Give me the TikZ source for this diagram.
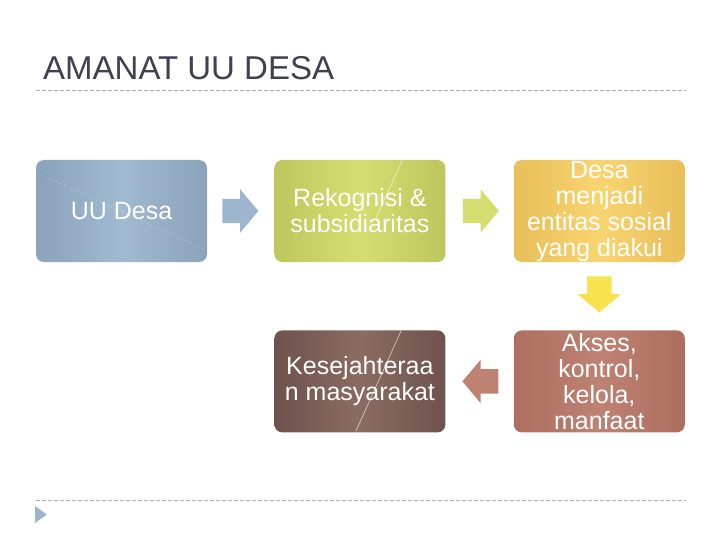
\documentclass[tikz,border=0pt]{standalone}
\usepackage{fontspec}
\setmainfont{Liberation Sans}
\usetikzlibrary{positioning, calc, shapes.arrows}

\definecolor{titlegray}{HTML}{404050}
\definecolor{rulegray}{HTML}{A8B0BC}
\definecolor{blueA}{HTML}{8AA2BA}
\definecolor{blueB}{HTML}{A0BAD2}
\definecolor{greenA}{HTML}{BCC65C}
\definecolor{greenB}{HTML}{D4DE70}
\definecolor{goldA}{HTML}{E8BE58}
\definecolor{goldB}{HTML}{F8D470}
\definecolor{rustA}{HTML}{AC6E5E}
\definecolor{rustB}{HTML}{BE8272}
\definecolor{brownA}{HTML}{6E524C}
\definecolor{brownB}{HTML}{8A6C62}

\tikzset{
  box/.style={rounded corners=8pt, minimum width=171pt, minimum height=102pt,
    inner sep=0pt, align=center, text=white,
    font=\fontsize{25}{26}\selectfont},
  blockarrow/.style={single arrow, inner xsep=0pt, inner ysep=12pt,
    minimum height=36pt, single arrow head extend=9.5pt,
    single arrow tip angle=100, single arrow head indent=0pt, anchor=tail},
  glint/.style={white, opacity=0.7, line width=0.6pt}
}

\begin{document}
\begin{tikzpicture}[x=1pt, y=-1pt]
  \useasboundingbox (0,0) rectangle (720,540);

  \node[anchor=base west, inner sep=0pt, text=titlegray, font=\fontsize{33}{36}\selectfont] (title) at (43,80) {AMANAT UU DESA};
  \draw[rulegray, line width=0.8pt, dash pattern=on 4pt off 2pt] (36,90) -- (686,90);
  \draw[rulegray, line width=0.8pt, dash pattern=on 4pt off 2pt] (36,500) -- (686,500);
  \fill[blueB!80!blueA] (35,506) -- (35,523) -- (47,514.5) -- cycle;

  % boxes
  \node[box, left color=blueA, right color=blueA, middle color=blueB] (uu) at (121.5,211) {UU Desa};
  \node[box, left color=greenA, right color=greenA, middle color=greenB, right=67pt of uu] (rekog) {Rekognisi \&\\subsidiaritas};
  \node[box, left color=goldA, right color=goldA, middle color=goldB, right=68pt of rekog] (entitas) {Desa\\menjadi\\entitas sosial\\yang diakui};
  \node[box, left color=rustA, right color=rustA, middle color=rustB, below=68pt of entitas] (akses) {Akses,\\kontrol,\\kelola,\\manfaat};
  \node[box, left color=brownA, right color=brownA, middle color=brownB, left=68pt of akses] (sejahtera) {Kesejahteraa\\n masyarakat};

  % arrows
  \node[blockarrow, fill=blueB!85!blueA] (a1) at ($(uu.east)+(15,0)$) {};
  \node[blockarrow, fill=greenB] (a2) at ($(rekog.east)+(17,0)$) {};
  \node[blockarrow, fill=goldB!70!yellow, shape border rotate=270, inner xsep=12pt, inner ysep=0pt] (a3) at ($(entitas.south)+(0,14)$) {};
  \node[blockarrow, fill=rustB, shape border rotate=180] (a4) at ($(akses.west)+(-15,0)$) {};

  % glints
  \draw[glint] (402,161) -- (376,218);
  \draw[glint] (401,331) -- (356,431);
  \draw[glint, opacity=0.5, dash pattern=on 1pt off 3pt] (42,175) -- (206,250);
\end{tikzpicture}
\end{document}
